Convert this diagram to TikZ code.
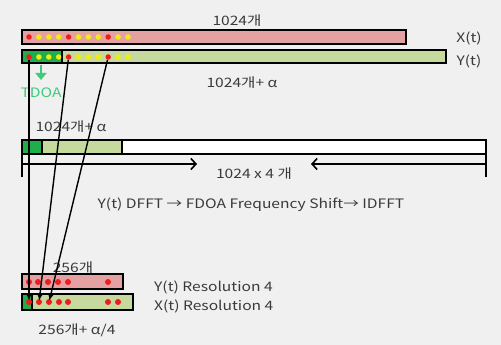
\documentclass[tikz,border=0pt]{standalone}
\usepackage{fontspec}
\setmainfont[FakeStretch=1.2]{Noto Sans CJK KR}
\usepackage{tikz}
\usetikzlibrary{arrows,arrows.meta,backgrounds,calc}

\definecolor{barred}{HTML}{E4A1A1}
\definecolor{bargreen}{HTML}{C6DA9E}
\definecolor{darkgr}{HTML}{1EAE4C}
\definecolor{tdoagreen}{HTML}{3DCB7C}
\definecolor{dotred}{HTML}{EE1C1C}
\definecolor{dotyellow}{HTML}{F0EC12}
\definecolor{txt}{HTML}{3A3A3A}

\begin{document}
\begin{tikzpicture}[x=1pt,y=-1pt,
  bar/.style={draw=black,line width=2pt},
  pt/.style={circle,inner sep=0pt,minimum size=5.5pt},
  lbl/.style={text=txt,inner sep=0pt,font=\fontsize{13}{15}\selectfont},
  link/.style={-{Latex[length=7pt,width=6pt]},line width=1.4pt,shorten >=-2pt},
  dim/.style={-{Straight Barb[length=5pt,width=11pt,line width=1.6pt]},line width=1.4pt}]
\fill[black!6] (0,0) rectangle (501,345);
\useasboundingbox (0,0) rectangle (501,345);

% X(t), Y(t) with 1024 samples
\draw[bar,fill=barred] (22,30) rectangle (406,44);
\draw[bar,fill=bargreen] (22,50) rectangle (446,63);
\draw[bar,fill=darkgr] (22,50) rectangle (62,63);
\foreach \i/\c in {0/dotred,1/dotyellow,2/dotyellow,3/dotyellow,4/dotred,5/dotyellow,
                   6/dotyellow,7/dotyellow,8/dotred,9/dotyellow,10/dotyellow}{
  \node[pt,fill=\c] (x\i) at ({29+9.9*\i},37) {};
  \node[pt,fill=\c] (y\i) at ({29+9.9*\i},57) {};
}
\node[lbl] (nx) at (237,21) {1024개};
\node[lbl] (lx) at (469,38) {X(t)};
\node[lbl] (ly) at (469,61) {Y(t)};
\node[lbl] (ny) at (242,83) {1024개+ α};

% TDOA
\coordinate (tdoatop) at (41,65);
\coordinate (tdoaend) at (41,80);
\node[lbl,text=tdoagreen] (tdoa) at (41,93) {TDOA};
\draw[-{Triangle[length=7pt,width=11pt]},line width=2.4pt,draw=tdoagreen] (tdoatop) -- (tdoaend);

% zero padded buffer
\draw[bar,fill=white] (22,140) rectangle (486,154);
\draw[bar,fill=bargreen] (42,140) rectangle (122,154);
\draw[bar,fill=darkgr] (22,140) rectangle (42,154);
\node[lbl] (nb) at (71,127) {1024개+ α};
\coordinate (bl) at (22,140);
\coordinate (br) at (486,140);
\coordinate (bl2) at (22,177);
\coordinate (br2) at (486,177);
\draw[line width=1.5pt] (bl) -- (bl2) (br) -- (br2);
\coordinate (al) at (22,164);
\coordinate (ar) at (486,164);
\coordinate (ae) at (197,164);
\coordinate (be) at (311,164);
\draw[dim] (al) -- (ae);
\draw[dim] (ar) -- (be);
\node[lbl] (nn) at (254,174) {1024 x 4 개};
\node[lbl] (proc) at (251,205) {Y(t) DFFT → FDOA Frequency Shift→ IDFFT};

% resolution 4
\draw[bar,fill=barred] (22,274) rectangle (123,289);
\draw[bar,fill=bargreen] (22,294) rectangle (133,310);
\draw[bar,fill=darkgr] (22,294) rectangle (32,310);
\foreach \i/\x in {0/29,1/38,2/48,3/58,4/68,5/108}
  \node[pt,fill=dotred,minimum size=6pt] (r\i) at (\x,282) {};
\foreach \i/\x in {0/29,1/39,2/49,3/59,4/68,5/108,6/118}
  \node[pt,fill=dotred,minimum size=6pt] (b\i) at (\x,302) {};
\node[lbl] (nr) at (73,268) {256개};
\node[lbl,anchor=west] (ry) at (154,287) {Y(t) Resolution 4};
\node[lbl,anchor=west] (rx) at (154,306) {X(t) Resolution 4};
\node[lbl] (nq) at (77,330) {256개+ α/4};

% decimation
\draw[link] (y0) -- (b0);
\draw[link] (y4) -- (b1);
\draw[link] (y8) -- (b2);
\end{tikzpicture}
\end{document}
